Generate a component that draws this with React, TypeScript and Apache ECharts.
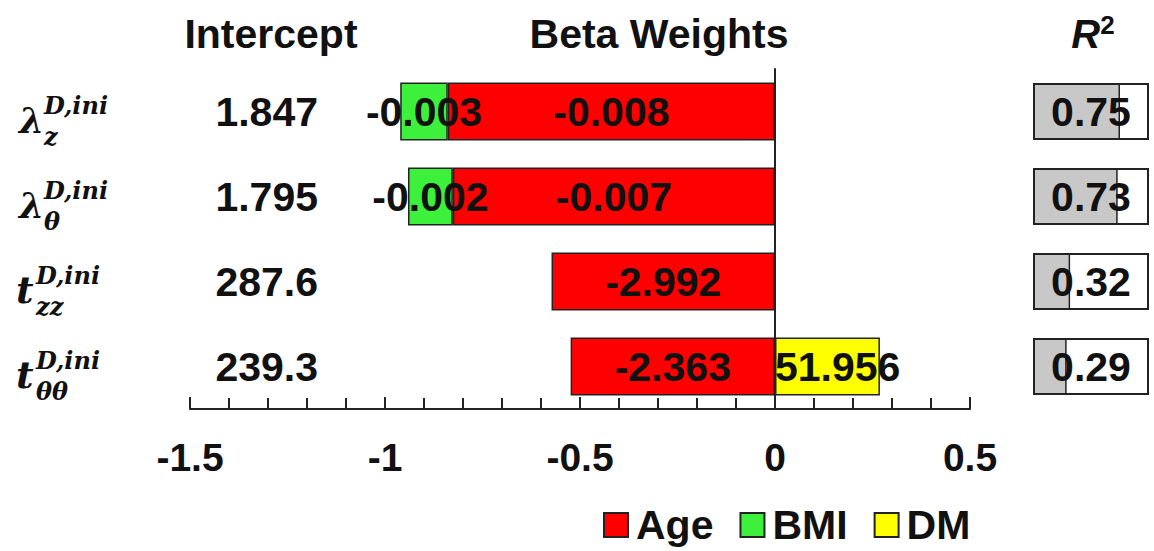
import React, { useEffect, useRef } from "react";
import * as echarts from "echarts";

// Rows: strain-model parameters
const rowKeys = ["lambdaZ", "lambdaTheta", "tZZ", "tThetaTheta"];
const rowSymbols = ["λ", "λ", "t", "t"];
const rowSuperscripts = ["D,ini", "D,ini", "D,ini", "D,ini"];
const rowSubscripts = ["z", "θ", "zz", "θθ"];

// Regression intercepts
const intercepts = ["1.847", "1.795", "287.6", "239.3"];

// Standardized beta weights (bar lengths)
const ageBeta = [-0.839, -0.826, -0.573, -0.524];
const bmiBeta: (number | string)[] = [-0.122, -0.115, "-", "-"];
const dmBeta: (number | string)[] = ["-", "-", "-", 0.269];

// Unstandardized coefficients printed on the bars
const ageCoef = ["-0.008", "-0.007", "-2.992", "-2.363"];
const bmiCoef = ["-0.003", "-0.002", "", ""];
const dmCoef = ["", "", "", "51.956"];

// Coefficient of determination per model
const r2 = [0.75, 0.73, 0.32, 0.29];
const r2Full = [1, 1, 1, 1];

// Beta axis range
const betaMin = -1.5;
const betaMax = 0.5;
const betaStep = 0.5;

const SANS = "'Liberation Sans', Arial, Helvetica, sans-serif";
const SERIF = "'DejaVu Serif', 'Liberation Serif', serif";
const INK = "#111111";
const EDGE = "#222222";

// horizontal placement of the math row labels, per main symbol
const symbolLayout: Record<string, { x: number; size: number; supX: number; subX: number }> = {
  "λ": { x: 19, size: 36, supX: 44, subX: 44 },
  t: { x: 16, size: 38, supX: 36, subX: 36 },
};

function barLabel(texts: string[], position: string, distance = 5) {
  return {
    show: true,
    position,
    distance,
    formatter: (p: any) => texts[p.dataIndex] ?? "",
    fontFamily: SANS,
    fontSize: 41,
    fontWeight: "bold",
    color: INK,
  };
}

export default function App() {
  const ref = useRef<HTMLDivElement>(null);

  useEffect(() => {
    if (!ref.current) return;
    const chart = echarts.init(ref.current, undefined, { renderer: "svg" });

    const option: any = {
      animation: false,
      backgroundColor: "#ffffff",
      legend: {
        data: ["Age", "BMI", "DM"],
        left: 598,
        top: 498,
        icon: "rect",
        itemWidth: 24,
        itemHeight: 24,
        itemGap: 26,
        selectedMode: false,
        textStyle: {
          fontFamily: SANS,
          fontSize: 41,
          fontWeight: "bold",
          color: INK,
          lineHeight: 44,
          padding: [0, 0, 0, 3],
        },
      },
      grid: [
        { left: 190, right: 184, top: 69, bottom: 142 },
        { left: 1033, width: 116, top: 69, bottom: 142 },
      ],
      xAxis: [
        {
          type: "value",
          gridIndex: 0,
          min: betaMin,
          max: betaMax,
          interval: betaStep,
          position: "bottom",
          splitLine: { show: false },
          axisLine: { show: true, lineStyle: { color: EDGE, width: 2 } },
          axisTick: { show: true, inside: true, length: 12, lineStyle: { color: EDGE, width: 2 } },
          minorTick: { show: true, splitNumber: 5, length: 11, lineStyle: { color: EDGE, width: 2 } },
          axisLabel: {
            margin: 29,
            fontFamily: SANS,
            fontSize: 39,
            fontWeight: "bold",
            color: INK,
          },
        },
        { type: "value", gridIndex: 1, min: 0, max: 1, show: false },
      ],
      yAxis: [
        {
          type: "category",
          gridIndex: 0,
          data: rowKeys,
          inverse: true,
          axisLine: { show: true, onZero: true, lineStyle: { color: EDGE, width: 2 } },
          axisTick: { show: false },
          axisLabel: { show: false },
          splitLine: { show: false },
        },
        { type: "category", gridIndex: 1, data: rowKeys, inverse: true, show: false },
      ],
      series: [
        {
          name: "Age",
          type: "bar",
          stack: "beta",
          barWidth: 58,
          data: ageBeta,
          itemStyle: { color: "#ff0000", borderColor: EDGE, borderWidth: 1.5 },
          label: barLabel(ageCoef, "inside"),
        },
        {
          name: "BMI",
          type: "bar",
          stack: "beta",
          barWidth: 58,
          data: bmiBeta,
          itemStyle: { color: "#3cf03c", borderColor: EDGE, borderWidth: 1.5 },
          label: barLabel(bmiCoef, "inside"),
        },
        {
          name: "DM",
          type: "bar",
          stack: "beta",
          barWidth: 58,
          data: dmBeta,
          itemStyle: { color: "#ffff00", borderColor: EDGE, borderWidth: 1.5 },
          label: barLabel(dmCoef, "insideLeft", 0),
        },
        {
          name: "R2 fill",
          type: "bar",
          xAxisIndex: 1,
          yAxisIndex: 1,
          barWidth: 57,
          barGap: "-100%",
          data: r2,
          z: 2,
          itemStyle: { color: "#c8c8c8", borderColor: EDGE, borderWidth: 1.5 },
        },
        {
          name: "R2 box",
          type: "bar",
          xAxisIndex: 1,
          yAxisIndex: 1,
          barWidth: 57,
          barGap: "-100%",
          data: r2Full,
          z: 3,
          itemStyle: { color: "rgba(0,0,0,0)", borderColor: EDGE, borderWidth: 2 },
          label: {
            show: true,
            position: "inside",
            formatter: (p: any) => r2[p.dataIndex].toFixed(2),
            fontFamily: SANS,
            fontSize: 41,
            fontWeight: "bold",
            color: INK,
          },
        },
      ],
    };

    chart.setOption(option);

    // Row-anchored texts: headers, math row names and intercept values
    const rowY = rowKeys.map((k) => chart.convertToPixel({ yAxisIndex: 0 }, k) as number);
    const headerStyle = {
      fontFamily: SANS,
      fontSize: 41,
      fontWeight: "bold",
      fill: INK,
      align: "center",
      verticalAlign: "middle",
    };
    const graphics: any[] = [
      { type: "text", x: 271, y: 34, style: { ...headerStyle, text: "Intercept" } },
      { type: "text", x: 659, y: 34, style: { ...headerStyle, text: "Beta Weights" } },
      {
        type: "text",
        x: 1093,
        y: 34,
        style: {
          text: "{r|R}{s|2}",
          align: "center",
          verticalAlign: "middle",
          rich: {
            r: { fontFamily: SANS, fontSize: 40, fontWeight: "bold", fontStyle: "italic", fill: INK, lineHeight: 44 },
            s: { fontFamily: SANS, fontSize: 26, fontWeight: "bold", fill: INK, verticalAlign: "top", lineHeight: 28 },
          },
        },
      },
    ];

    rowKeys.forEach((_, i) => {
      const y = rowY[i];
      const lay = symbolLayout[rowSymbols[i]];
      const mathFont = { fontFamily: SERIF, fontWeight: "bold", fontStyle: "italic", fill: INK };
      graphics.push(
        {
          type: "text",
          x: lay.x,
          y: y + 8,
          style: { ...mathFont, text: rowSymbols[i], fontSize: lay.size, align: "left", verticalAlign: "middle" },
        },
        {
          type: "text",
          x: lay.supX,
          y: y - 6,
          style: { ...mathFont, text: rowSuperscripts[i], fontSize: 24, align: "left", verticalAlign: "middle" },
        },
        {
          type: "text",
          x: lay.subX,
          y: y + 25,
          style: { ...mathFont, text: rowSubscripts[i], fontSize: 24, align: "left", verticalAlign: "middle" },
        },
        {
          type: "text",
          x: 318,
          y: y,
          style: {
            text: intercepts[i],
            fontFamily: SANS,
            fontSize: 41,
            fontWeight: "bold",
            fill: INK,
            align: "right",
            verticalAlign: "middle",
          },
        }
      );
    });

    chart.setOption({ graphic: graphics });

    return () => chart.dispose();
  }, []);

  return (
    <div
      ref={ref}
      style={{ position: "fixed", left: 0, top: 0, width: 1154, height: 551, background: "#fff" }}
    />
  );
}
